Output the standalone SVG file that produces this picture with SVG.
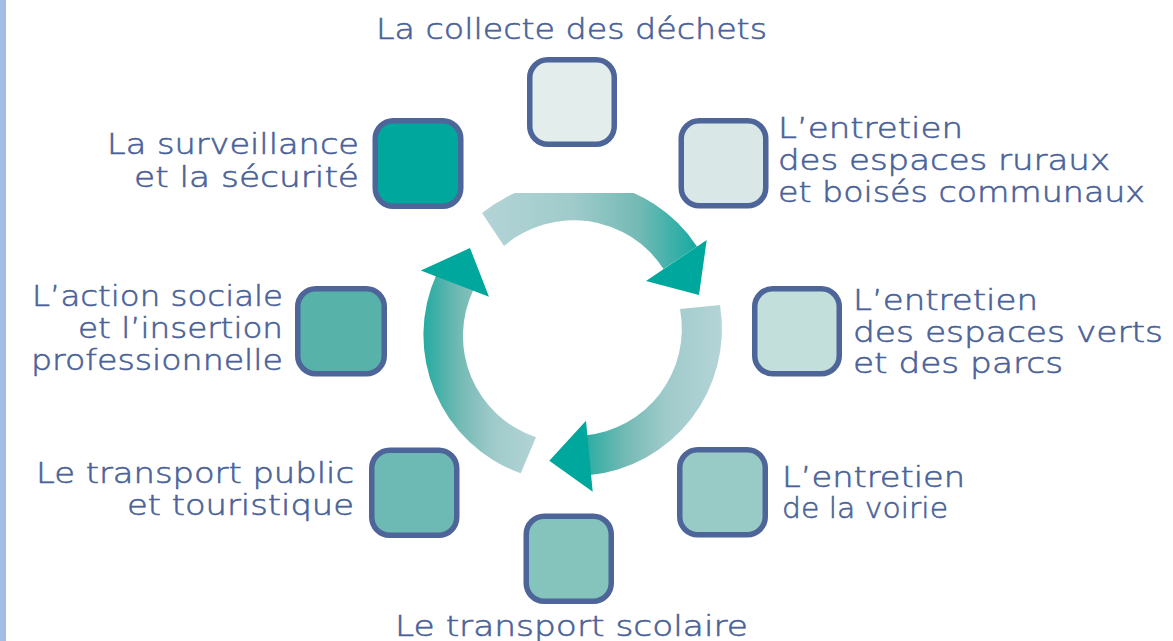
<svg xmlns="http://www.w3.org/2000/svg" width="1173" height="641" viewBox="0 0 1173 641">
  <style>
    .box { stroke: #4d6598; stroke-width: 5.5; }
    .lbl { font-family: "DejaVu Sans", "Liberation Sans", sans-serif; font-size: 28px; font-weight: 200; fill: #4a6298; stroke: #4a6298; stroke-width: 0.55; }
    .head { fill: #00a79d; }
  </style>
  <defs>
    <linearGradient id="gTop" gradientUnits="userSpaceOnUse" x1="482" y1="0" x2="705" y2="0">
      <stop offset="0" stop-color="#b4d4d6"/>
      <stop offset="0.4" stop-color="#a0cbcb"/>
      <stop offset="0.7" stop-color="#74bab5"/>
      <stop offset="1" stop-color="#0aa89e"/>
    </linearGradient>
    <linearGradient id="gRight" gradientUnits="userSpaceOnUse" x1="721" y1="0" x2="585" y2="0">
      <stop offset="0" stop-color="#b4d4d6"/>
      <stop offset="0.4" stop-color="#a0cbcb"/>
      <stop offset="0.7" stop-color="#74bab5"/>
      <stop offset="1" stop-color="#2aaca2"/>
    </linearGradient>
    <linearGradient id="gLeft" gradientUnits="userSpaceOnUse" x1="540" y1="0" x2="426" y2="0">
      <stop offset="0" stop-color="#b4d4d6"/>
      <stop offset="0.4" stop-color="#a0cbcb"/>
      <stop offset="0.7" stop-color="#74bab5"/>
      <stop offset="1" stop-color="#2aaca2"/>
    </linearGradient>
    <clipPath id="clipTop">
      <rect x="0" y="193" width="1173" height="448"/>
    </clipPath>
  </defs>

  <rect width="1173" height="641" fill="#ffffff"/>
  <!-- left margin rule -->
  <rect x="0" y="0" width="6" height="641" fill="#a5bde5"/>

  <!-- circular arrows -->
  <g id="connectors">
    <g id="arrow-top">
      <path clip-path="url(#clipTop)" fill="url(#gTop)" d="M 482 213 A 147 147 0 0 1 697 246.5 L 663.5 269 A 107 107 0 0 0 504 246 Z"/>
      <polygon class="head" points="646,281 706.7,240 699,295"/>
    </g>
    <g id="arrow-right">
      <path fill="url(#gRight)" d="M 720 305 A 147 147 0 0 1 588.4 475.2 L 584.2 435.4 A 107 107 0 0 0 680 309 Z"/>
      <polygon class="head" points="586,420.7 592.7,491.7 549.3,460.7"/>
    </g>
    <g id="arrow-left">
      <path fill="url(#gLeft)" d="M 520.7 473.3 A 147 147 0 0 1 436.7 273.9 L 473.8 288.9 A 107 107 0 0 0 536 437.3 Z"/>
      <polygon class="head" points="489,296.7 420.8,270.6 470,248"/>
    </g>
  </g>

  <!-- nodes -->
  <g id="node-collecte">
    <rect class="box" x="529.75" y="59.75" width="84.5" height="84.5" rx="18" fill="#e3eeec"/>
    <text class="lbl" x="376" y="39" textLength="391" lengthAdjust="spacingAndGlyphs">La collecte des déchets</text>
  </g>

  <g id="node-espaces-ruraux">
    <rect class="box" x="681.25" y="120.75" width="84.5" height="85" rx="18" fill="#d9e8e6"/>
    <text class="lbl" x="778" y="138" textLength="185" lengthAdjust="spacingAndGlyphs">L’entretien</text>
    <text class="lbl" x="778" y="170" textLength="332" lengthAdjust="spacingAndGlyphs">des espaces ruraux</text>
    <text class="lbl" x="778" y="202" textLength="367" lengthAdjust="spacingAndGlyphs">et boisés communaux</text>
  </g>

  <g id="node-espaces-verts">
    <rect class="box" x="754.75" y="288.75" width="84.5" height="85" rx="18" fill="#c2dfdb"/>
    <text class="lbl" x="853" y="310" textLength="185" lengthAdjust="spacingAndGlyphs">L’entretien</text>
    <text class="lbl" x="853" y="342" textLength="310" lengthAdjust="spacingAndGlyphs">des espaces verts</text>
    <text class="lbl" x="853" y="373" textLength="210" lengthAdjust="spacingAndGlyphs">et des parcs</text>
  </g>

  <g id="node-voirie">
    <rect class="box" x="679.75" y="449.75" width="85.5" height="85" rx="18" fill="#99cbc6"/>
    <text class="lbl" x="782" y="487" textLength="183" lengthAdjust="spacingAndGlyphs">L’entretien</text>
    <text class="lbl" x="782" y="518" textLength="166" lengthAdjust="spacingAndGlyphs">de la voirie</text>
  </g>

  <g id="node-transport-scolaire">
    <rect class="box" x="526.25" y="516.25" width="85" height="85" rx="18" fill="#85c4bd"/>
    <text class="lbl" x="395" y="636" textLength="353" lengthAdjust="spacingAndGlyphs">Le transport scolaire</text>
  </g>

  <g id="node-transport-public">
    <rect class="box" x="371.75" y="450.25" width="85" height="85" rx="18" fill="#6cbab3"/>
    <text class="lbl" x="36" y="483" textLength="318" lengthAdjust="spacingAndGlyphs">Le transport public</text>
    <text class="lbl" x="127" y="515" textLength="227" lengthAdjust="spacingAndGlyphs">et touristique</text>
  </g>

  <g id="node-action-sociale">
    <rect class="box" x="297.75" y="288.75" width="86.5" height="85" rx="18" fill="#57b2aa"/>
    <text class="lbl" x="32" y="306" textLength="251" lengthAdjust="spacingAndGlyphs">L’action sociale</text>
    <text class="lbl" x="78" y="338" textLength="205" lengthAdjust="spacingAndGlyphs">et l’insertion</text>
    <text class="lbl" x="31" y="370" textLength="252" lengthAdjust="spacingAndGlyphs">professionnelle</text>
  </g>

  <g id="node-surveillance">
    <rect class="box" x="375.25" y="120.75" width="85.5" height="85.5" rx="18" fill="#00a79d"/>
    <text class="lbl" x="107" y="154" textLength="252" lengthAdjust="spacingAndGlyphs">La surveillance</text>
    <text class="lbl" x="134" y="187" textLength="225" lengthAdjust="spacingAndGlyphs">et la sécurité</text>
  </g>
</svg>
